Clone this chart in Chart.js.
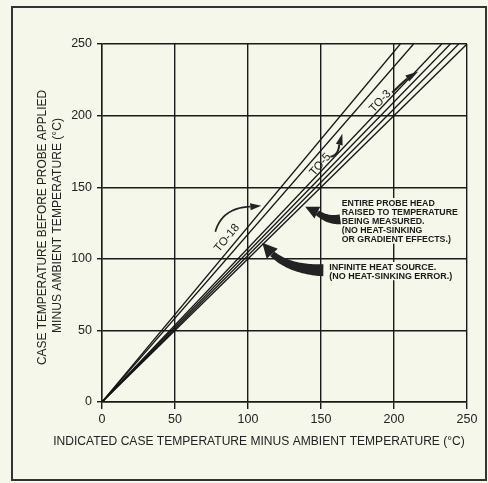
<!DOCTYPE html>
<html><head><meta charset="utf-8">
<script src="https://cdn.jsdelivr.net/npm/chart.js@4.4.1/dist/chart.umd.min.js"></script>
<style>
html,body{margin:0;padding:0;background:#f4f7e9;}
canvas{display:block;}
</style></head><body>
<canvas id="c" width="488" height="483"></canvas>
<script>
// ---- data ----
const tickValues = [0, 50, 100, 150, 200, 250];
const seriesNames = ['TO-18', 'TO-5', 'TO-3', 'Probe head a', 'Probe head b', 'Infinite heat source'];
const startX = [0, 0, 0, 0, 0, 0];
const startY = [0, 0, 0, 0, 0, 0];
const endX = [204.3, 213.4, 232.7, 238.6, 244.3, 250];
const endY = [250, 250, 250, 250, 250, 250];
const xTitle = 'INDICATED CASE TEMPERATURE MINUS AMBIENT TEMPERATURE (°C)';
const yTitle = ['CASE TEMPERATURE BEFORE PROBE APPLIED', 'MINUS AMBIENT TEMPERATURE (°C)'];
const noteProbe = ['ENTIRE PROBE HEAD', 'RAISED TO TEMPERATURE', 'BEING MEASURED.', '(NO HEAT-SINKING', 'OR GRADIENT EFFECTS.)'];
const noteInfinite = ['INFINITE HEAT SOURCE.', '(NO HEAT-SINKING ERROR.)'];
const lineLabels = ['TO-18', 'TO-5', 'TO-3'];

// ---- annotation layout (data units) ----
const FONT = '"Liberation Sans", Arial, Helvetica, sans-serif';
const BG = '#f4f7e9';
const labelPos = [{x: 85.6, y: 114.5, line: 0}, {x: 149.5, y: 165.7, line: 1}, {x: 190.6, y: 210.0, line: 2}];
const notes = [
  {lines: noteProbe, x: 164.2, y: 139.2, w: 115 / 'RAISED TO TEMPERATURE'.length},
  {lines: noteInfinite, x: 155.7, y: 94.6, w: 107 / 'INFINITE HEAT SOURCE.'.length}
];
const arrows = [
  {p0: [163.2, 127.6], c: [155.0, 126.4], e: [147.5, 132.2], tip: [139.2, 136.4], w0: 10, w1: 5.5, head: 13},
  {p0: [151.6, 92.0], c: [129.0, 92.3], e: [116.6, 103.5], tip: [109.8, 111.2], w0: 12, w1: 6, head: 15},
  {p0: [77.6, 118.9], c: [82.4, 135.7], e: [101.6, 136.4], tip: [109.1, 137.1], w0: 1.7, w1: 1.7, head: 7},
  {p0: [156.4, 171.3], c: [161.8, 172.0], e: [162.5, 179.7], tip: [164.6, 187.4], w0: 2, w1: 2, head: 7},
  {p0: [198.8, 216.1], c: [204.3, 221.7], e: [209.1, 225.9], tip: [216.6, 230.8], w0: 2, w1: 2, head: 7}
];

const datasets = seriesNames.map((n, i) => ({
  label: n,
  data: [{x: startX[i], y: startY[i]}, {x: endX[i], y: endY[i]}],
  showLine: true, borderColor: '#141414', borderWidth: 1.3, pointRadius: 0, fill: false
}));

function quad(p0, c, p1, t) {
  const u = 1 - t;
  return {x: u*u*p0.x + 2*u*t*c.x + t*t*p1.x, y: u*u*p0.y + 2*u*t*c.y + t*t*p1.y};
}
function drawArrow(ctx, a, xs, ys) {
  const P = v => ({x: xs.getPixelForValue(v[0]), y: ys.getPixelForValue(v[1])});
  const p0 = P(a.p0), c = P(a.c), e = P(a.e), tip = P(a.tip);
  const N = 30, L1 = [], R1 = [];
  for (let i = 0; i <= N; i++) {
    const t = i / N, p = quad(p0, c, e, t), u = 1 - t;
    const dx = 2*u*(c.x - p0.x) + 2*t*(e.x - c.x), dy = 2*u*(c.y - p0.y) + 2*t*(e.y - c.y);
    const L = Math.hypot(dx, dy) || 1, nx = -dy / L, ny = dx / L;
    const w = (a.w0 + (a.w1 - a.w0) * t) / 2;
    L1.push({x: p.x + nx*w, y: p.y + ny*w}); R1.push({x: p.x - nx*w, y: p.y - ny*w});
  }
  ctx.beginPath();
  L1.forEach((p, i) => i ? ctx.lineTo(p.x, p.y) : ctx.moveTo(p.x, p.y));
  R1.reverse().forEach(p => ctx.lineTo(p.x, p.y));
  ctx.closePath(); ctx.fill();
  const dx = tip.x - e.x, dy = tip.y - e.y, L = Math.hypot(dx, dy), nx = -dy / L, ny = dx / L;
  const h = a.head / 2;
  ctx.beginPath();
  ctx.moveTo(tip.x, tip.y);
  ctx.lineTo(e.x + nx*h, e.y + ny*h);
  ctx.lineTo(e.x - nx*h, e.y - ny*h);
  ctx.closePath(); ctx.fill();
}
function fitText(ctx, text, x, y, target, base, weight) {
  const wt = weight ? weight + ' ' : '';
  ctx.font = wt + base + 'px ' + FONT;
  const w = ctx.measureText(text).width;
  const size = base * target / w;
  ctx.font = wt + size.toFixed(2) + 'px ' + FONT;
  ctx.fillText(text, x, y);
}

const deco = {
  id: 'deco',
  beforeDraw(chart) {
    const ctx = chart.ctx;
    ctx.save();
    ctx.fillStyle = BG; ctx.fillRect(0, 0, chart.width, chart.height);
    ctx.strokeStyle = '#333'; ctx.lineWidth = 2;
    ctx.strokeRect(12, 7, 474, 473);
    ctx.restore();
  },
  afterDatasetsDraw(chart) {
    const ctx = chart.ctx, xs = chart.scales.x, ys = chart.scales.y;
    ctx.save();
    // axis titles
    ctx.fillStyle = '#222'; ctx.textAlign = 'center'; ctx.textBaseline = 'middle';
    fitText(ctx, xTitle, 259, 442, 412, 12);
    ctx.save(); ctx.translate(43, 227.5); ctx.rotate(-Math.PI / 2);
    fitText(ctx, yTitle[0], 0, 0, 275, 12); ctx.restore();
    ctx.save(); ctx.translate(58, 225.5); ctx.rotate(-Math.PI / 2);
    fitText(ctx, yTitle[1], 0, 0, 215, 12); ctx.restore();
    // notes
    ctx.textAlign = 'left';
    notes.forEach(n => {
      const x = xs.getPixelForValue(n.x), y0 = ys.getPixelForValue(n.y);
      ctx.font = 'bold 8px ' + FONT;
      const ref = ctx.measureText(n.lines[0]).width / n.lines[0].length;
      const size = 8 * n.w / ref;
      ctx.font = 'bold ' + Math.min(size, 9).toFixed(2) + 'px ' + FONT;
      n.lines.forEach((t, i) => {
        const y = y0 + i * 9.1, w = ctx.measureText(t).width;
        ctx.fillStyle = BG; ctx.fillRect(x - 1, y - 4.6, w + 2, 9.2);
        ctx.fillStyle = '#1a1a1a'; ctx.fillText(t, x, y + 0.5);
      });
    });
    // arrows
    ctx.fillStyle = '#222';
    arrows.forEach(a => drawArrow(ctx, a, xs, ys));
    // line labels
    ctx.fillStyle = '#1a1a1a'; ctx.textAlign = 'center'; ctx.font = '11.5px ' + FONT;
    labelPos.forEach((l, i) => {
      const k = l.line;
      const ang = Math.atan2(ys.getPixelForValue(endY[k]) - ys.getPixelForValue(startY[k]),
                             xs.getPixelForValue(endX[k]) - xs.getPixelForValue(startX[k]));
      ctx.save();
      ctx.translate(xs.getPixelForValue(l.x), ys.getPixelForValue(l.y));
      ctx.rotate(ang);
      ctx.fillText(lineLabels[i], 0, 0);
      ctx.restore();
    });
    ctx.restore();
  }
};

const axisCommon = {
  type: 'linear', min: 0, max: 250,
  afterBuildTicks: s => { s.ticks = tickValues.map(v => ({value: v})); },
  grid: {color: '#1a1a1a', lineWidth: 1.4, drawTicks: true},
  border: {color: '#1a1a1a', width: 1.4},
  title: {display: false}
};

new Chart(document.getElementById('c'), {
  type: 'scatter',
  data: {datasets},
  options: {
    responsive: false, animation: false,
    layout: {padding: {left: 0, right: 21, top: 44, bottom: 0}},
    plugins: {legend: {display: false}, tooltip: {enabled: false}},
    scales: {
      x: Object.assign({}, axisCommon, {
        afterFit: s => { s.height = 81; },
        grid: Object.assign({}, axisCommon.grid, {tickLength: 7}),
        ticks: {color: '#222', font: {family: FONT, size: 12.5}, padding: 3, maxRotation: 0, autoSkip: false}
      }),
      y: Object.assign({}, axisCommon, {
        afterFit: s => { s.width = 102; },
        grid: Object.assign({}, axisCommon.grid, {tickLength: 5}),
        ticks: {color: '#222', font: {family: FONT, size: 12.5}, padding: 5, autoSkip: false}
      })
    }
  },
  plugins: [deco]
});
</script>
</body></html>
